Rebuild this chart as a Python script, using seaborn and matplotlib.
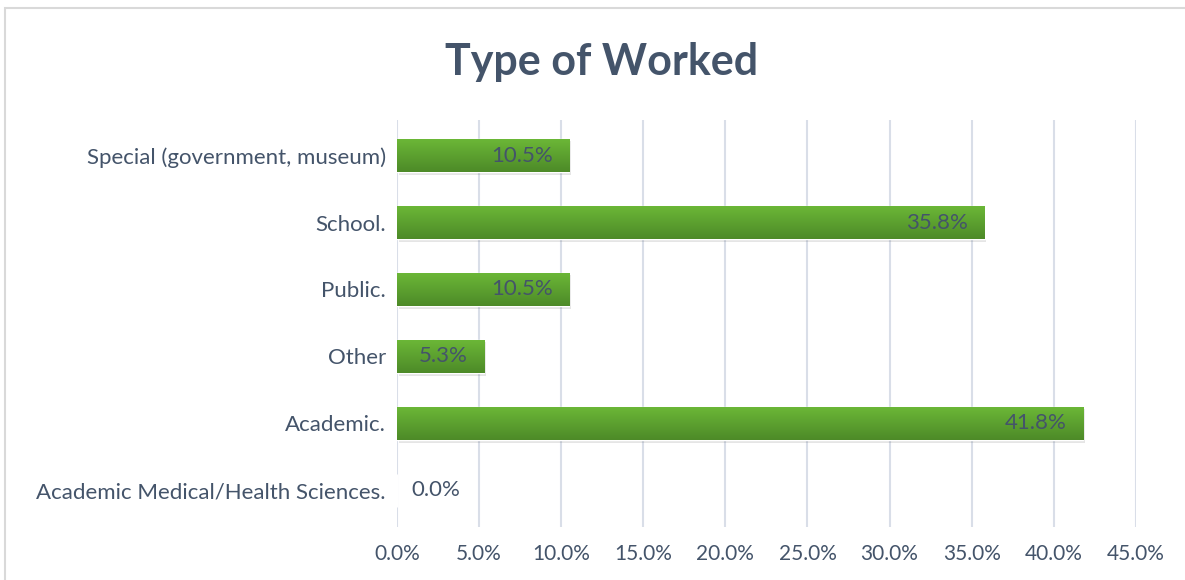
import numpy as np
import pandas as pd
import matplotlib
matplotlib.use("Agg")
import matplotlib.pyplot as plt
from matplotlib.patches import Rectangle
from matplotlib.ticker import FuncFormatter
import seaborn as sns

# データ（上から順に）
categories = [
    "Special (government, museum)",
    "School.",
    "Public.",
    "Other",
    "Academic.",
    "Academic Medical/Health Sciences.",
]
percent = [10.5, 35.8, 10.5, 5.3, 41.8, 0.0]

sns.set_theme(style="white")
plt.rcParams['font.family'] = ['Lato', 'DejaVu Sans']

text_color = "#44546A"
bar_color = "#5EA732"

df = pd.DataFrame({"category": categories, "percent": percent})

fig = plt.figure(figsize=(11.85, 5.8), dpi=100)
ax = fig.add_axes([0.335, 0.091, 0.6235, 0.702])

sns.barplot(data=df, x="percent", y="category", color=bar_color,
            width=0.5, saturation=1, ax=ax, zorder=3)

# バーにグラデーション（上が明るく、下が暗い）
grad = np.linspace(0, 1, 64).reshape(-1, 1)
cmap = matplotlib.colors.LinearSegmentedColormap.from_list("g", ["#6CB837", "#4D8A28"])
for bar in ax.patches:
    w = bar.get_width()
    if w <= 0:
        continue
    x0, y0, h = bar.get_x(), bar.get_y(), bar.get_height()
    # 影
    ax.add_patch(Rectangle((x0 + 0.1, y0 + 0.04), w, h, color="#000000",
                           alpha=0.10, zorder=2, lw=0))
    im = ax.imshow(grad, extent=[x0, x0 + w, y0 + h, y0], origin="upper",
                   aspect="auto", cmap=cmap, zorder=4)
    im.set_clip_path(bar)

ax.set_xlim(0, 45)
ax.set_ylim(5.55, -0.53)
ax.set_xticks(np.arange(0, 46, 5))
ax.xaxis.set_major_formatter(FuncFormatter(lambda v, p: f"{v:.1f}%"))
ax.grid(axis="x", color="#D9DEE8", linewidth=1.5, zorder=0)
ax.set_axisbelow(True)
for s in ax.spines.values():
    s.set_visible(False)
ax.set_xlabel("")
ax.set_ylabel("")
ax.tick_params(axis="both", length=0, labelcolor=text_color)
ax.tick_params(axis="y", pad=8, labelsize=16)
ax.tick_params(axis="x", pad=12, labelsize=15)

# データラベル
for i, v in enumerate(percent):
    if v > 2:
        ax.text(v - 1.0, i, f"{v:.1f}%", ha="right", va="center",
                fontsize=16, color=text_color, zorder=5)
    else:
        ax.text(v + 0.9, i, f"{v:.1f}%", ha="left", va="center",
                fontsize=16, color=text_color, zorder=5)

fig.text(0.508, 0.893, "Type of Worked", ha="center", va="center",
         fontsize=31, fontweight="bold", color=text_color)

# 外枠
fig.patches.append(Rectangle((0.004, -0.01), 1.0, 0.996, transform=fig.transFigure,
                             fill=False, edgecolor="#D9D9D9", linewidth=1.5))

fig.savefig("out.png", dpi=100)
plt.close(fig)
